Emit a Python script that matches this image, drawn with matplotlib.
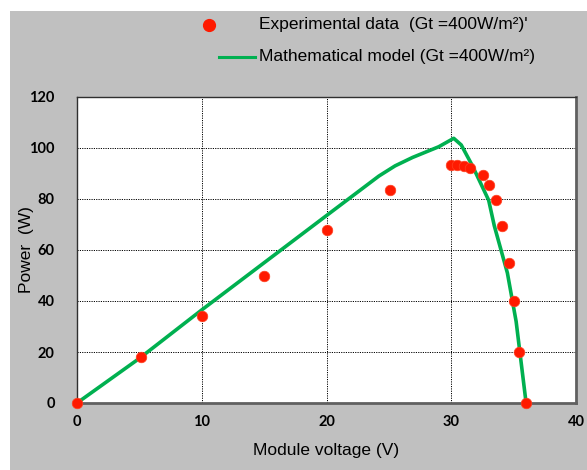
import matplotlib
matplotlib.use("Agg")
import matplotlib.pyplot as plt
from matplotlib.patches import Rectangle
from matplotlib.lines import Line2D

# Experimental data
exp_v = [0, 5.1, 10, 15, 20, 25.1, 30.0, 30.45, 31.0, 31.5, 32.55, 33.0, 33.55, 34.05, 34.6, 35.05, 35.4, 36.0]
exp_p = [0, 18, 34, 50, 68, 83.5, 93.5, 93.5, 93.0, 92.0, 89.5, 85.6, 79.6, 69.5, 55.0, 40.0, 20.0, 0]

# Mathematical model
mod_v = [0, 5, 10, 15, 20, 24.2, 25.5, 26.9, 29.0, 30.2, 30.8, 31.7, 33.0, 33.45, 34.5, 35.2, 36.0]
mod_p = [0, 17.5, 36.5, 55, 73.5, 89.0, 93.0, 96.3, 100.5, 103.8, 101.2, 93.0, 79.5, 69.5, 51.0, 32.0, 0]

x_ticks = [0, 10, 20, 30, 40]
y_ticks = [0, 20, 40, 60, 80, 100, 120]

W, H = 587, 470
fig = plt.figure(figsize=(W / 100, H / 100), dpi=100, facecolor="white")
fig.patches.append(Rectangle((10 / W, 0), 1 - 10 / W, 1 - 11 / H, transform=fig.transFigure,
                             facecolor="#c0c0c0", edgecolor="none", zorder=-10))

AX_L, AX_R, AX_T, AX_B = 77, 576, 97, 403
ax = fig.add_axes([AX_L / W, 1 - AX_B / H, (AX_R - AX_L) / W, (AX_B - AX_T) / H])
ax.set_facecolor("white")

ax.plot(mod_v, mod_p, color="#00b050", lw=2.6, zorder=3, clip_on=False)
ax.scatter(exp_v, exp_p, s=58, color="#ff1a00", edgecolors="#ff4020", linewidths=0.5, zorder=4, clip_on=False)

ax.set_xlim(0, 40)
ax.set_ylim(0, 120)
ax.set_xticks(x_ticks)
ax.set_yticks(y_ticks)
ax.set_xticklabels([str(t) for t in x_ticks], fontfamily="Lato", fontweight="bold", fontsize=10.5)
ax.set_yticklabels([str(t) for t in y_ticks], fontfamily="Lato", fontweight="bold", fontsize=10.5)
ax.tick_params(length=0, pad=9)
ax.tick_params(axis="y", pad=16)

ax.grid(True, color="black", linestyle=(0, (1.2, 1.2)), linewidth=0.7)
ax.set_axisbelow(True)

for side in ("top", "left"):
    ax.spines[side].set_color("#303030")
    ax.spines[side].set_linewidth(1.0)
for side in ("right", "bottom"):
    ax.spines[side].set_color("#606060")
    ax.spines[side].set_linewidth(2.0)

ax.set_xlabel("Module voltage (V)", fontfamily="Liberation Sans", fontsize=12.5, va="center")
ax.set_ylabel("Power  (W)", fontfamily="Liberation Sans", fontsize=12.5, va="center")
ax.xaxis.set_label_coords(0.5, -(450 - AX_B) / (AX_B - AX_T))
ax.yaxis.set_label_coords(-(AX_L - 27) / (AX_R - AX_L), 0.5)

# Legend (manual, outside axes)
fig.add_artist(Line2D([209 / W], [1 - 25 / H], marker="o", markersize=8.5, color="#ff1a00",
                      linestyle="none", transform=fig.transFigure))
fig.text(259 / W, 1 - 25 / H, "Experimental data  (Gt =400W/m²)'", fontfamily="Liberation Sans",
         fontsize=12.5, va="center", ha="left")
fig.add_artist(Line2D([219 / W, 255 / W], [1 - 57 / H, 1 - 57 / H], color="#00b050", lw=2.2,
                      transform=fig.transFigure))
fig.text(259 / W, 1 - 57 / H, "Mathematical model (Gt =400W/m²)", fontfamily="Liberation Sans",
         fontsize=12.5, va="center", ha="left")

fig.savefig("out.png", dpi=100, facecolor=fig.get_facecolor())
